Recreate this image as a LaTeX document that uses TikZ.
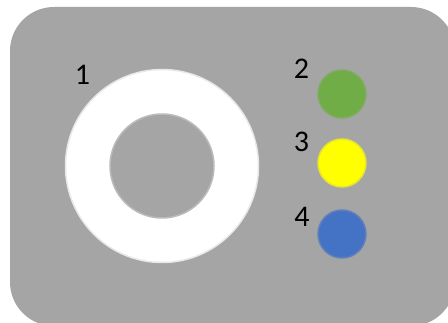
\documentclass[tikz,border=0pt]{standalone}
\usepackage{fontspec}
\setmainfont{Carlito}
\usetikzlibrary{positioning}
\definecolor{PanelGray}{RGB}{165,165,165}
\definecolor{LedGreen}{RGB}{112,173,71}
\definecolor{LedYellow}{RGB}{255,255,0}
\definecolor{LedBlue}{RGB}{68,114,196}
\tikzset{
  panel/body/.style={
    fill=PanelGray,
    draw=none,
    rounded corners=44pt
  },
  panel/ring/.style={
    circle,
    fill=white,
    draw=white!75!PanelGray,
    line width=1.5pt,
    inner sep=0pt,
    minimum size=193pt
  },
  panel/hole/.style={
    circle,
    fill=PanelGray,
    draw=PanelGray!75!white,
    line width=1.5pt,
    inner sep=0pt,
    minimum size=104pt
  },
  panel/led/.style={
    circle,
    fill=#1,
    draw=#1!70!PanelGray,
    line width=1.5pt,
    inner sep=0pt,
    minimum size=48pt
  },
  panel/num/.style={
    font=\fontsize{30}{36}\selectfont,
    text=black,
    inner sep=0pt
  }
}

\begin{document}
\begin{tikzpicture}[x=1pt,y=-1pt]
  \useasboundingbox[fill=white] (0,0) rectangle (448,323);
  \clip (0,0) rectangle (448,323);
  \fill[panel/body] (10,7) rectangle (455,326);

  \node[panel/ring] (ring) at (162,166) {};
  \node[panel/hole] (hole) at (ring.center) {};
  \node[panel/num] (lbl1) at (82.5,75) {1};

  \node[panel/led=LedGreen] (green) at (342,94) {};
  \node[panel/led=LedYellow] (yellow) at (342,163) {};
  \node[panel/led=LedBlue] (blue) at (342,234) {};

  \node[panel/num] (lbl2) at (301.5,69) {2};
  \node[panel/num] (lbl3) at (301.5,141.5) {3};
  \node[panel/num] (lbl4) at (302,217) {4};
\end{tikzpicture}
\end{document}
